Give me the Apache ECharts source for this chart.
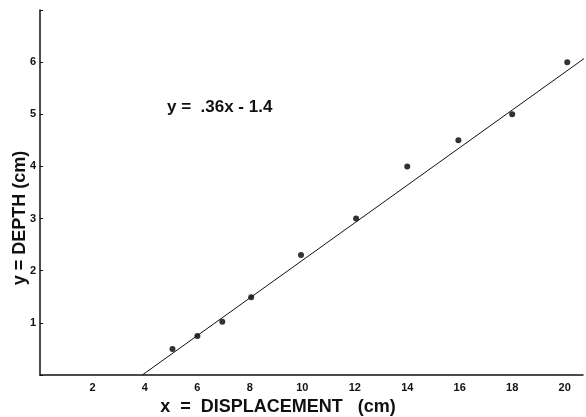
<!DOCTYPE html>
<html><head><meta charset="utf-8">
<script src="https://cdn.jsdelivr.net/npm/echarts@6/dist/echarts.min.js"></script>
<style>html,body{margin:0;padding:0;background:#fff}#c{width:586px;height:417px}</style>
</head><body><div id="c"></div>
<script>
const displacement = [5.05, 6.0, 6.95, 8.05, 9.95, 12.05, 14.0, 15.95, 18.0, 20.1];
const depth = [0.5, 0.75, 1.02, 1.49, 2.3, 3.0, 4.0, 4.5, 5.0, 6.0];
const fitX = [3.9, 20.8];
const fitY = [0.0, 6.09];
const equationText = 'y =  .36x - 1.4';
const xTitle = 'x  =  DISPLACEMENT   (cm)';
const yTitle = 'y = DEPTH (cm)';

const chart = echarts.init(document.getElementById('c'));
const font = '"Liberation Sans", Arial, sans-serif';
chart.setOption({
  animation: false,
  backgroundColor: '#fff',
  grid: { left: 40, right: 3, top: 10, bottom: 42 },
  xAxis: {
    type: 'value', min: 0, max: 20.7, interval: 2,
    axisLine: { show: true, onZero: false, lineStyle: { color: '#111', width: 1.5 } },
    axisTick: { show: false },
    splitLine: { show: false },
    axisLabel: { fontFamily: font, fontWeight: 'bold', fontSize: 11, color: '#111', margin: 7,
      showMaxLabel: false,
      formatter: v => (v === 0 ? '' : String(v)) }
  },
  yAxis: {
    type: 'value', min: 0, max: 7, interval: 1,
    axisLine: { show: true, onZero: false, lineStyle: { color: '#111', width: 1.5 } },
    axisTick: { show: true, inside: true, length: 3, lineStyle: { color: '#111' } },
    splitLine: { show: false },
    axisLabel: { fontFamily: font, fontWeight: 'bold', fontSize: 11, color: '#111', margin: 4,
      formatter: v => (v === 0 || v === 7 ? '' : String(v)) }
  },
  series: [
    {
      type: 'line', data: fitX.map((x, i) => [x, fitY[i]]),
      symbol: 'none', lineStyle: { color: '#111', width: 1 }, silent: true
    },
    {
      type: 'scatter', data: displacement.map((x, i) => [x, depth[i]]),
      symbol: 'circle', symbolSize: 6, itemStyle: { color: '#000' }
    }
  ],
  graphic: [
    { type: 'text', x: 167, y: 107,
      style: { text: equationText, fontFamily: font, fontWeight: 'bold', fontSize: 17, fill: '#111', textVerticalAlign: 'middle' } },
    { type: 'text', x: 278, y: 407,
      style: { text: xTitle, fontFamily: font, fontWeight: 'bold', fontSize: 18, fill: '#111', textAlign: 'center', textVerticalAlign: 'middle' } },
    { type: 'text', x: 20, y: 218, rotation: Math.PI / 2,
      style: { text: yTitle, fontFamily: font, fontWeight: 'bold', fontSize: 18, fill: '#111', textAlign: 'center', textVerticalAlign: 'middle' } }
  ]
});
</script></body></html>
